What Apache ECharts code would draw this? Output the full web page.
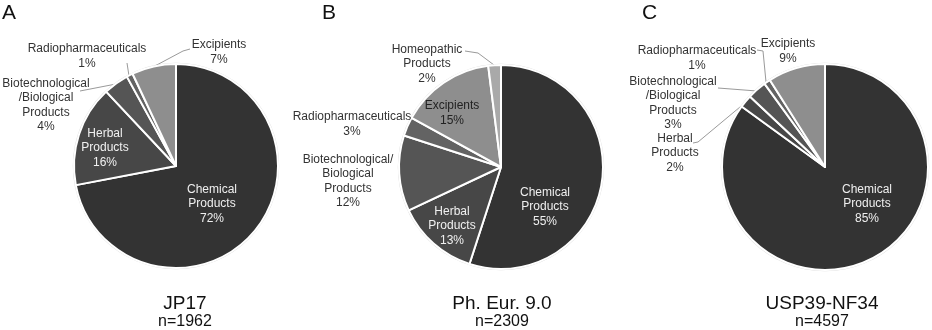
<!DOCTYPE html>
<html>
<head>
<meta charset="utf-8">
<script src="https://cdn.jsdelivr.net/npm/echarts@6/dist/echarts.min.js"></script>
<style>
html,body{margin:0;padding:0;background:#fff;}
#chart{width:932px;height:330px;}
</style>
</head>
<body>
<div id="chart"></div>
<script>
// ---- data ----
var categoriesA = ['Chemical Products', 'Herbal Products', 'Biotechnological/Biological Products', 'Radiopharmaceuticals', 'Excipients'];
var valuesA = [72, 16, 4, 1, 7];
var labelTextA = ['Chemical\nProducts', 'Herbal\nProducts', 'Biotechnological\n/Biological\nProducts', 'Radiopharmaceuticals', 'Excipients'];

var categoriesB = ['Chemical Products', 'Herbal Products', 'Biotechnological/Biological Products', 'Radiopharmaceuticals', 'Excipients', 'Homeopathic Products'];
var valuesB = [55, 13, 12, 3, 15, 2];
var labelTextB = ['Chemical\nProducts', 'Herbal\nProducts', 'Biotechnological/\nBiological\nProducts', 'Radiopharmaceuticals', 'Excipients', 'Homeopathic\nProducts'];

var categoriesC = ['Chemical Products', 'Herbal Products', 'Biotechnological/Biological Products', 'Radiopharmaceuticals', 'Excipients'];
var valuesC = [85, 2, 3, 1, 9];
var labelTextC = ['Chemical\nProducts', 'Herbal\nProducts', 'Biotechnological\n/Biological\nProducts', 'Radiopharmaceuticals', 'Excipients'];

var panelLetters = ['A', 'B', 'C'];
var panelNames = ['JP17', 'Ph. Eur. 9.0', 'USP39-NF34'];
var panelN = ['n=1962', 'n=2309', 'n=4597'];

// ---- styles ----
var sliceColors = {
  'Chemical Products': '#333333',
  'Herbal Products': '#474747',
  'Biotechnological/Biological Products': '#555555',
  'Radiopharmaceuticals': '#636363',
  'Excipients': '#8e8e8e',
  'Homeopathic Products': '#a9a9a9'
};
var FONT = "'Liberation Sans', Arial, sans-serif";

// label placement per panel (label centre + leader line points)
var layoutA = {
  0: {x: 212, y: 204},
  1: {x: 105, y: 148},
  2: {x: 46, y: 105, line: [[80, 91], [116, 84]]},
  3: {x: 87, y: 56, line: [[127, 63], [129, 76]]},
  4: {x: 219, y: 52, line: [[190, 49], [183, 51], [153, 67]]}
};
var layoutB = {
  0: {x: 545, y: 207},
  1: {x: 452, y: 226},
  2: {x: 348, y: 181},
  3: {x: 352, y: 124},
  4: {x: 452, y: 113},
  5: {x: 427, y: 64, line: [[465, 51], [478, 53], [494, 65]]}
};
var layoutC = {
  0: {x: 867, y: 204},
  1: {x: 675, y: 153, line: [[693, 143], [698, 142], [746, 102]]},
  2: {x: 673, y: 103, line: [[718, 88], [757, 91]]},
  3: {x: 697, y: 58, line: [[757, 50], [763, 51], [766, 82]]},
  4: {x: 788, y: 51}
};

function buildData(cats, vals, texts, insideIdx, darkInside) {
  return cats.map(function (c, i) {
    var inside = insideIdx.indexOf(i) >= 0;
    return {
      name: c,
      value: vals[i],
      itemStyle: {color: sliceColors[c]},
      labelText: texts[i],
      label: {
        position: inside ? 'inside' : 'outside',
        color: inside ? (darkInside.indexOf(i) >= 0 ? '#222' : '#ffffff') : '#333',
        opacity: inside && darkInside.indexOf(i) < 0 ? 0.92 : 1
      },
      labelLine: {show: !inside}
    };
  });
}

function pieSeries(data, center, radius, layout) {
  return {
    type: 'pie',
    center: center,
    radius: [0, radius],
    startAngle: 90,
    clockwise: true,
    avoidLabelOverlap: false,
    animation: false,
    silent: true,
    z: 2,
    itemStyle: {borderColor: '#ffffff', borderWidth: 2},
    label: {
      show: true,
      fontFamily: FONT,
      fontSize: 12,
      lineHeight: 14.5,
      align: 'center',
      formatter: function (p) { return p.data.labelText + '\n' + p.value + '%'; }
    },
    labelLine: {show: true, length: 5, length2: 5, lineStyle: {color: '#9a9a9a', width: 1}},
    labelLayout: function (p) {
      var L = layout[p.dataIndex];
      var o = {x: L.x, y: L.y, align: 'center', verticalAlign: 'middle'};
      if (L.line) o.labelLinePoints = L.line;
      return o;
    },
    data: data
  };
}

function ringSeries(center, radius) {
  return {
    type: 'pie',
    center: center,
    radius: [0, radius + 1.2],
    silent: true,
    animation: false,
    z: 1,
    label: {show: false},
    labelLine: {show: false},
    itemStyle: {color: '#d9d9d9'},
    data: [{value: 1, name: 'ring'}]
  };
}

var dataA = buildData(categoriesA, valuesA, labelTextA, [0, 1], []);
var dataB = buildData(categoriesB, valuesB, labelTextB, [0, 1, 4], [4]);
var dataC = buildData(categoriesC, valuesC, labelTextC, [0], []);
dataC[4].labelLine = {show: false};
dataB[2].labelLine = {show: false};
dataB[3].labelLine = {show: false};

var letterPos = [{left: 2, top: 3}, {left: 322, top: 3}, {left: 642, top: 3}];
var bottomX = [185, 502, 822];

var titles = [];
panelLetters.forEach(function (t, i) {
  titles.push({text: t, left: letterPos[i].left, top: letterPos[i].top, padding: 0,
    textStyle: {fontFamily: FONT, fontSize: 21, fontWeight: 'normal', color: '#111'}});
});
panelNames.forEach(function (t, i) {
  titles.push({text: t, subtext: panelN[i], left: bottomX[i], top: 294, textAlign: 'center', padding: 0, itemGap: 1,
    textStyle: {fontFamily: FONT, fontSize: 19, fontWeight: 'normal', color: '#111', lineHeight: 19},
    subtextStyle: {fontFamily: FONT, fontSize: 16, color: '#111', lineHeight: 16}});
});

var chart = echarts.init(document.getElementById('chart'), null, {renderer: 'canvas'});
chart.setOption({
  backgroundColor: '#ffffff',
  animation: false,
  title: titles,
  series: [
    ringSeries([176, 166], 102),
    pieSeries(dataA, [176, 166], 102, layoutA),
    ringSeries([501, 167], 102),
    pieSeries(dataB, [501, 167], 102, layoutB),
    ringSeries([825, 167], 103),
    pieSeries(dataC, [825, 167], 103, layoutC)
  ]
});
</script>
</body>
</html>
